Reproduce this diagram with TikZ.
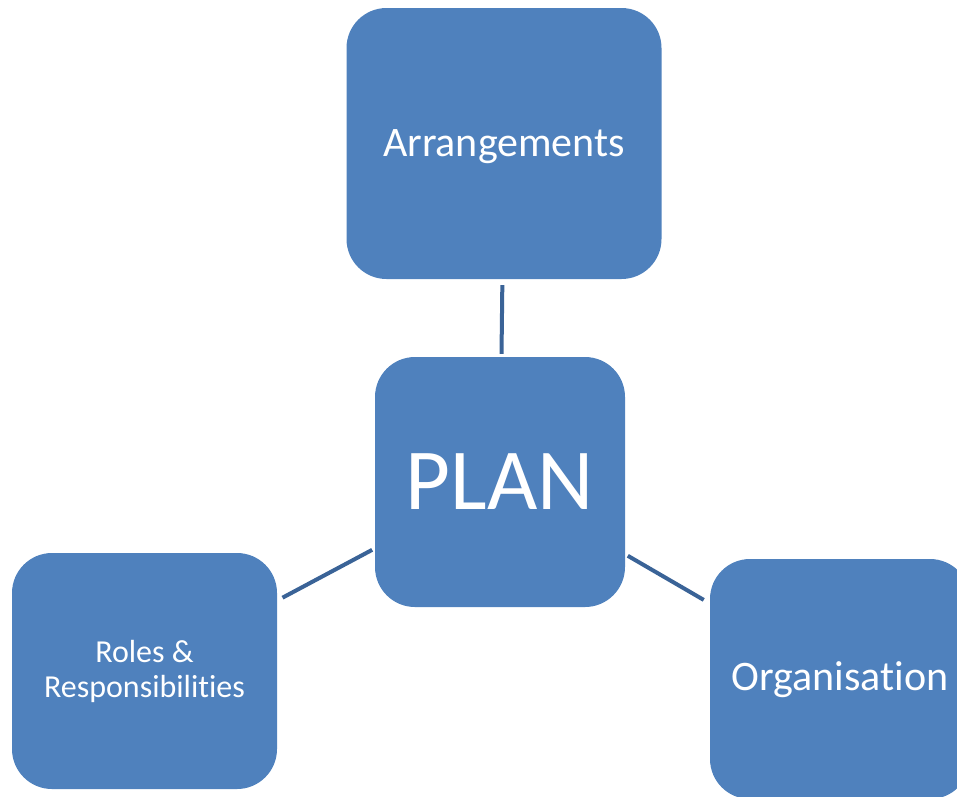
\documentclass[tikz,border=0pt]{standalone}
\usepackage{fontspec}
\setmainfont[Ligatures=NoCommon]{Carlito}
\definecolor{boxfill}{HTML}{4F81BD}
\definecolor{linkcol}{HTML}{3A6397}
\begin{document}
\begin{tikzpicture}[x=1pt,y=-1pt,
  box/.style={rectangle, rounded corners=40pt, fill=boxfill, text=white, inner sep=0pt, align=center},
  lbl/.style={text=white, inner sep=0pt, align=center},
  link/.style={draw=linkcol, line width=4pt}]
\useasboundingbox (0,0) rectangle (957,796);
\clip (0,0) rectangle (957,796);
\node[box, minimum width=315pt, minimum height=271pt] (arr) at (504,143.5) {};
\node[lbl, font=\fontsize{42}{48}\selectfont] (arrtxt) at (504,147) {Arrangements};
\node[box, minimum width=250pt, minimum height=250pt, font=\fontsize{87}{94}\selectfont] (plan) at (500,482) {PLAN};
\node[box, minimum width=265pt, minimum height=236pt] (roles) at (144.5,671) {};
\node[lbl, font=\fontsize{32}{35}\selectfont] (rolestxt) at (144.5,671) {Roles \&\\Responsibilities};
\node[box, minimum width=260pt, minimum height=240pt] (org) at (840,679) {};
\node[lbl, font=\fontsize{42}{48}\selectfont] (orgtxt) at (840,680) {Organisation};
\draw[link, shorten <=6pt, shorten >=3pt] (arr) -- (plan);
\draw[link, shorten <=6pt, shorten >=3pt] (roles) -- (plan);
\draw[link, shorten <=7pt, shorten >=3pt] (org) -- (plan);
\end{tikzpicture}
\end{document}
